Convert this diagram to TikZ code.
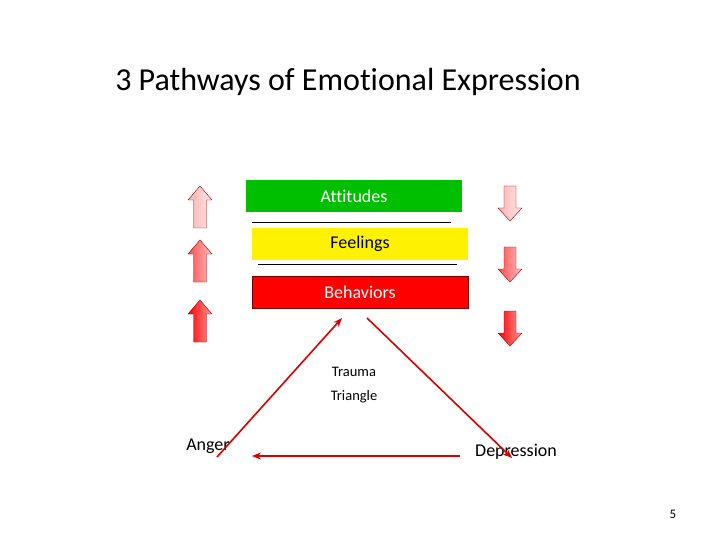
\documentclass[tikz,border=0pt]{standalone}
\usepackage{fontspec}
\setmainfont[Ligatures=NoCommon]{Carlito}
\tikzset{
  layer/.style={draw=none, minimum width=216pt, minimum height=32pt, inner sep=0pt, font=\fontsize{18}{21}\selectfont},
  tri/.style={red!85!black, line width=1.6pt, -{Stealth[length=9pt, width=7pt]}},
  lbl/.style={font=\fontsize{18}{21}\selectfont}
}
\usetikzlibrary{arrows.meta}
\colorlet{pale}{red!30}
\colorlet{paler}{red!10}
\colorlet{mid}{red!70}
\colorlet{midl}{red!25}
\colorlet{full}{red}
\colorlet{fulll}{red!40}
\newcommand{\uparr}[4]{% x, top y, left colour, right colour
  \draw[red!60!black, left color=#3, right color=#4] (#1-6.5,#2+42) -- (#1-6.5,#2+14) -- (#1-12,#2+14) -- (#1,#2) -- (#1+12,#2+14) -- (#1+6.5,#2+14) -- (#1+6.5,#2+42) -- cycle;}
\newcommand{\downarr}[4]{% x, bottom y, left colour, right colour
  \draw[red!60!black, left color=#3, right color=#4] (#1-6,#2-35) -- (#1-6,#2-13) -- (#1-12,#2-13) -- (#1,#2) -- (#1+12,#2-13) -- (#1+6,#2-13) -- (#1+6,#2-35) -- cycle;}
\begin{document}
\begin{tikzpicture}[x=1pt, y=-1pt]
  \useasboundingbox (0,0) rectangle (720,540);

  % title
  \node[font=\fontsize{32}{38}\selectfont] (title) at (348,82) {3 Pathways of Emotional Expression};

  % layers
  \node[layer, fill=green!75!black, text=white] (att) at (354,196) {Attitudes};
  \node[layer, fill=yellow] (feel) at (360,244) {Feelings};
  \node[layer, fill=red, draw=red!50!black, text=white] (beh) at (360,292) {Behaviors};
  \draw (252,222) -- (451,222);
  \draw (258,264) -- (457,264);

  % side arrows
  \uparr{200}{186}{pale}{paler}
  \uparr{200}{240}{mid}{midl}
  \uparr{200}{300}{full}{fulll}
  \downarr{510}{221}{pale}{paler}
  \downarr{510}{282}{mid}{midl}
  \downarr{510}{346}{full}{fulll}

  % trauma triangle
  \node[font=\fontsize{14.5}{17}\selectfont] (trauma) at (354,372) {Trauma};
  \node[font=\fontsize{14.5}{17}\selectfont] (triangle) at (354,397) {Triangle};
  \node[lbl] (anger) at (208,446) {Anger};
  \node[lbl] (dep) at (516,452) {Depression};
  \coordinate (a1) at (217,457);
  \coordinate (a2) at (342,318);
  \coordinate (d1) at (367,318);
  \coordinate (d2) at (512,458);
  \coordinate (b1) at (460,456);
  \coordinate (b2) at (252,456);
  \draw[tri] (a1) -- (a2);
  \draw[tri] (d1) -- (d2);
  \draw[tri] (b1) -- (b2);

  \node[font=\fontsize{13}{15}\selectfont] (page) at (673,514) {5};
\end{tikzpicture}
\end{document}
